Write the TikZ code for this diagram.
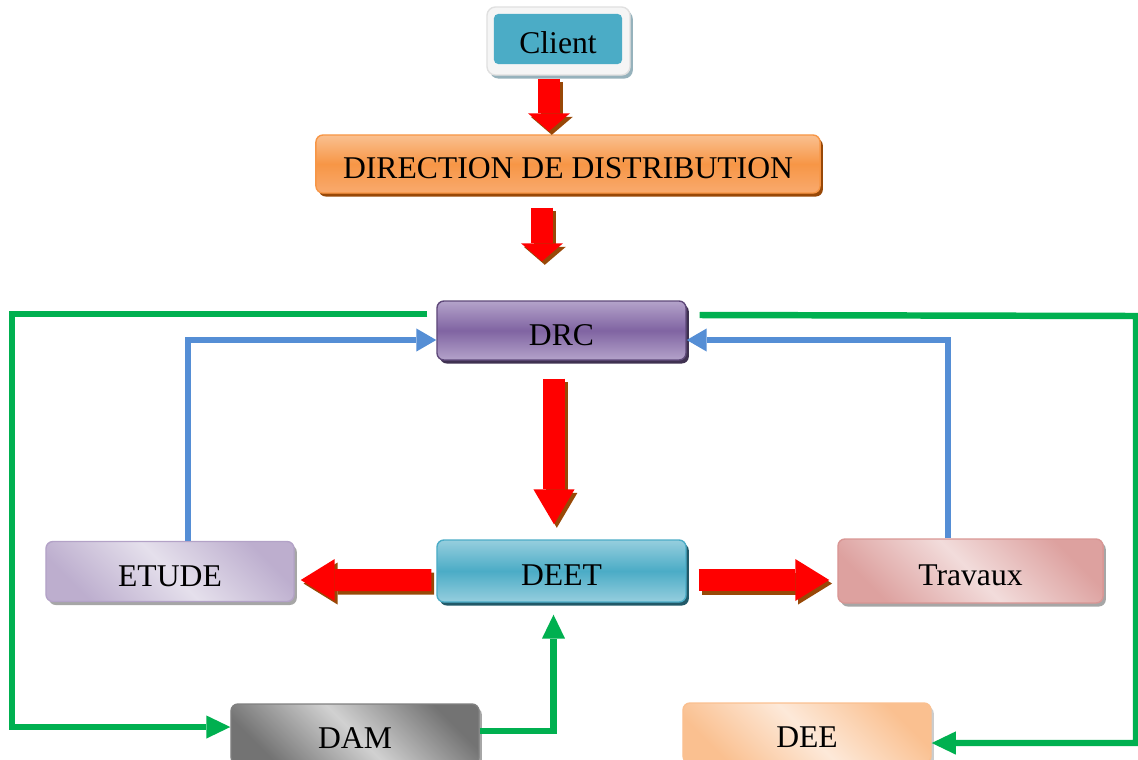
\documentclass[tikz,border=0pt]{standalone}
\usepackage{fontspec}
\setmainfont{Liberation Serif}
\usetikzlibrary{calc,shadows,arrows.meta}

\definecolor{redarrow}{HTML}{FF0000}
\definecolor{arrowshade}{HTML}{984807}
\definecolor{linkblue}{HTML}{558ED5}
\definecolor{linkgreen}{HTML}{00B050}
\definecolor{clientshade}{HTML}{96B2BC}
\definecolor{aqua}{HTML}{4BACC6}
\definecolor{aqualight}{HTML}{96CEDE}
\definecolor{aquadark}{HTML}{215968}
\definecolor{orangelight}{HTML}{FAC090}
\definecolor{orangemid}{HTML}{F79646}
\definecolor{orangelow}{HTML}{F9AA6E}
\definecolor{orangepale}{HTML}{FDE9D9}
\definecolor{purplemid}{HTML}{8064A2}
\definecolor{purplelight}{HTML}{B4A3CA}
\definecolor{purpleedge}{HTML}{5F497A}
\definecolor{purpledark}{HTML}{3F3151}
\definecolor{lavender}{HTML}{B3A2C7}
\definecolor{lavenderpale}{HTML}{E5E0EC}
\definecolor{rose}{HTML}{D99694}
\definecolor{rosepale}{HTML}{F2DCDB}

\tikzset{
	box/.style={rectangle, rounded corners=5pt, line width=1pt, minimum width=6.2cm, minimum height=1.5cm,
		font=\fontsize{22.5}{27}\selectfont, text height=21pt, text depth=0pt,
		drop shadow={shadow xshift=2pt, shadow yshift=-2.5pt, opacity=1, fill=#1}},
	bluelink/.style={draw=linkblue, line width=4.3pt, -{Triangle[width=0.58cm, length=0.5cm, line width=0pt]}},
	greenlink/.style={draw=linkgreen, line width=4.6pt, -{Triangle[width=0.58cm, length=0.6cm, line width=0pt]}}
}

% fat red arrow with its brown shade: start, end, head width, head length
\newcommand{\FatArrow}[4]{
	\draw[line width=0.55cm, arrowshade, transform canvas={shift={(2pt,-2.5pt)}}, -{Triangle[width=#3, length=#4, line width=0pt]}] #1 -- #2;
	\draw[line width=0.55cm, redarrow, -{Triangle[width=#3, length=#4, line width=0pt]}] #1 -- #2;
}

\begin{document}
\begin{tikzpicture}[x=0.025cm, y=-0.025cm]

\useasboundingbox (0,0) rectangle (1138,759);

\node (clientframe) at (558.5, 41) [rectangle, rounded corners=6pt, fill=black!4, draw=black!12, line width=1pt, minimum width=3.575cm, minimum height=1.7cm,
	drop shadow={shadow xshift=2pt, shadow yshift=-2.5pt, opacity=1, fill=clientshade}] {};
\node (client) at (558, 39) [rectangle, rounded corners=3pt, fill=aqua, minimum width=3.2cm, minimum height=1.25cm,
	font=\fontsize{22.5}{27}\selectfont, text height=21pt, text depth=0pt] {Client};

\node (dir) at (568, 164) [box=arrowshade, draw=orangemid, minimum width=12.6cm, minimum height=1.45cm,
	top color=orangelight, bottom color=orangelow, middle color=orangemid] {DIRECTION DE DISTRIBUTION};

\node (drc) at (561.5, 330.5) [box=purpledark, draw=purpleedge, minimum width=6.225cm, minimum height=1.475cm,
	top color=purplelight, bottom color=purplelight, middle color=purplemid] {DRC};

\node (deet) at (561.5, 571) [box=aquadark, draw=aqua, minimum width=6.225cm, minimum height=1.55cm,
	top color=aqualight, bottom color=aqualight, middle color=aqua] {DEET};

\node (etude) at (170, 571.5) [box=black!35, draw=lavender,
	top color=lavender!80!lavenderpale, bottom color=lavender!80!lavenderpale, middle color=lavenderpale, shading angle=-45] {ETUDE};

\node (trav) at (970.5, 571) [box=black!35, draw=rose, minimum width=6.625cm, minimum height=1.6cm,
	top color=rose!85!rosepale, bottom color=rose!85!rosepale, middle color=rosepale, shading angle=-45] {Travaux};

\node (dam) at (355, 734) [box=black!35, draw=black!50,
	top color=black!55, bottom color=black!55, middle color=black!18, shading angle=-45] {DAM};

\node (dee) at (807, 733) [box=black!20, draw=orangelight,
	top color=orangelight, bottom color=orangelight, middle color=orangepale, shading angle=-45] {DEE};

% red flow
\FatArrow{($(clientframe.south)+(-9.5,3)$)}{($(dir.north)+(-19,-3)$)}{1.05cm}{0.45cm}
\FatArrow{($(dir.south)+(-26,14)$)}{($(drc.north)+(-19.5,-39)$)}{1.05cm}{0.45cm}
\FatArrow{($(drc.south)+(-7.5,18)$)}{($(deet.north)+(-7.5,-15)$)}{1.03cm}{0.875cm}
\FatArrow{($(deet.west)+(-5,9)$)}{($(etude.east)+(6,8.5)$)}{1.05cm}{0.85cm}
\FatArrow{($(deet.east)+(12,9)$)}{($(trav.west)+(-8,9)$)}{1.05cm}{0.85cm}

% feedback to DRC
\draw[bluelink] ($(etude.north)+(18,0)$) |- ($(drc.west)+(0,9.5)$);
\draw[bluelink] ($(trav.north)+(-22.5,0)$) |- ($(drc.east)+(0,9.5)$);

% green loops
\coordinate (gleft) at (12, 314);
\coordinate (gright) at (1136, 316);
\draw[greenlink] ($(drc.west)+(-9,-16.5)$) -- (gleft) |- ($(dam.west)+(0,-7)$);
\draw[greenlink] ($(dam.east)+(0,-3)$) -| ($(deet.south)+(-8,12)$);
\draw[greenlink] ($(drc.east)+(13,-15.5)$) -- (gright) |- ($(dee.east)+(0,10)$);

\end{tikzpicture}
\end{document}
